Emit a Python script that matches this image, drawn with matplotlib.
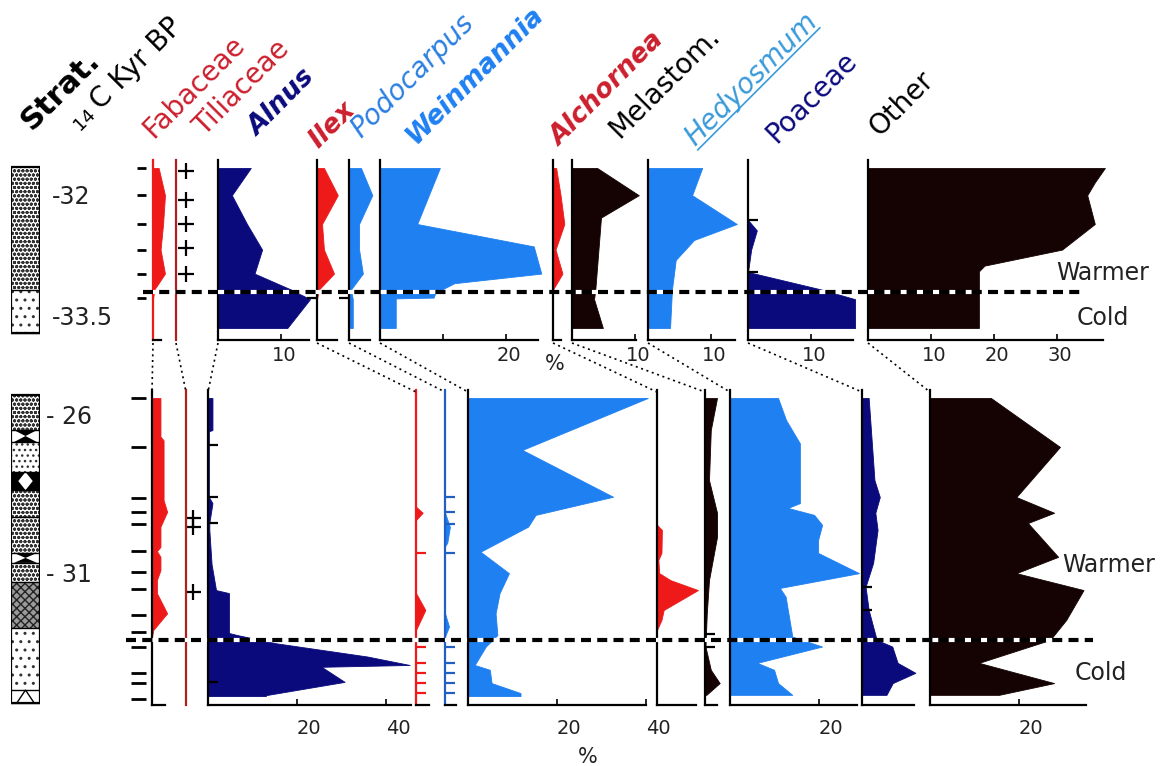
import numpy as np
import matplotlib
matplotlib.use("Agg")
import matplotlib.pyplot as plt
from matplotlib.lines import Line2D
from matplotlib.patches import Rectangle, Polygon
from matplotlib.textpath import TextPath
from matplotlib.font_manager import FontProperties
import matplotlib.transforms as mtransforms

W, H = 1167, 766

# ---------------- upper section (relative depth, 0 = top sample) ----------------
up_depth = [0, 17, 35, 51, 66, 76, 82, 100]
up_fabaceae = [0.9, 1.9, 1.6, 1.2, 1.9, 0.2, 0, 0]
up_alnus = [5.2, 2.2, 4.6, 7.0, 5.8, 11.6, 14.6, 11.0]
up_ilex = [1.1, 3.3, 0.8, 1.1, 2.7, 0.3, 0, 0]
up_podocarpus = [1.9, 3.7, 1.6, 1.6, 2.2, 0.3, 0.6, 0.6]
up_alchornea = [0.5, 1.2, 1.8, 0.4, 1.5, 0, 0, 0]
up_wein_depth = [0, 35, 49, 66, 72, 78, 81, 81.5, 100]
up_weinmannia = [9.5, 5.9, 24.4, 25.6, 11.8, 8.8, 8.5, 2.5, 2.5]
up_mel_depth = [0, 17, 31, 76, 82, 100]
up_melastom = [4.0, 10.6, 4.6, 3.7, 3.5, 4.9]
up_hed_depth = [0, 17, 35, 45, 57.5, 76, 100]
up_hedyosmum = [8.6, 7.0, 14.1, 7.3, 4.4, 3.8, 3.5]
up_poa_depth = [0, 32.5, 39, 51, 65, 76, 82, 100]
up_poaceae = [0, 0, 1.4, 0.5, 0, 11.7, 17, 17]
up_oth_depth = [0, 9, 17, 35, 51, 61, 64.6, 100]
up_other = [37.6, 36, 34.8, 36, 30.8, 18.5, 17.6, 17.6]
up_samples = [0, 17, 35, 51, 66, 81]
up_tilia_plus = [2, 20, 35, 50, 66]
up_strat = [(-0.6, 76.3, "dense"), (76.3, 103, "sparse")]
up_ages = [(18, "-32"), (94, "-33.5")]
up_boundary = 77.8

# ---------------- lower section ----------------
lo_fab_depth = [0, 12.8, 14, 33.8, 37.7, 42.6, 49.3, 50.7, 52.6, 57, 60.3, 64.6, 71.3, 76.8, 79, 100]
lo_fabaceae = [1.9, 1.9, 2.6, 2.6, 3.4, 1.9, 1.9, 1.1, 1.9, 1.9, 1.1, 1.1, 3.4, 0.3, 0, 0]
lo_aln_depth = [0, 10.6, 11, 32.8, 34.8, 41.4, 43.7, 55, 63.6, 64.6, 77.8, 78.5, 81.2, 85.6, 88.4, 89, 94, 98.4, 98.7]
lo_alnus = [1.0, 1.0, 0.2, 0.2, 1.0, 0.3, 0.3, 0.8, 1.8, 4.7, 4.7, 6.6, 15.2, 35.8, 45.3, 25.5, 30.7, 13, 13]
lo_ilex_depth = [36, 38, 40.4, 64.6, 70.2, 76.8]
lo_ilex = [0, 1.5, 0, 0, 2.1, 0]
lo_podo_depth = [38, 42.7, 48, 49, 71.3, 75.7, 79]
lo_podocarpus = [0, 1.1, 0.5, 0, 0, 0.9, 0]
lo_wein_depth = [0, 17.2, 32.7, 38.7, 42.6, 50.9, 58, 64.6, 71.3, 78.5, 82.3, 88.4, 90, 94.4, 97.7, 98.7]
lo_weinmannia = [40.4, 12.2, 32.6, 15.2, 13.5, 2.8, 9.2, 7.1, 6.2, 6.6, 4.0, 1.5, 4.9, 5.3, 11.8, 11.8]
lo_alch_depth = [42, 43.7, 51.3, 53.6, 58, 60.3, 63.6, 70.2, 73.5, 76.8]
lo_alchornea = [0, 1.1, 1.0, 0.3, 0.5, 3.0, 9.2, 1.5, 1.0, 0]
lo_mel_depth = [0, 10.6, 27.2, 38, 46, 60.3, 71.3, 82.3, 90, 94.4, 98.3]
lo_melastom = [2.7, 1.3, 0.9, 2.7, 2.7, 0.9, 0.4, 0.1, 1.3, 3.3, 0.3]
lo_hed_depth = [0, 7.3, 15, 34.8, 36.4, 38.7, 42, 47, 51.3, 58, 62.9, 65.8, 79, 82.3, 87.7, 90, 94.4, 98.3]
lo_hedyosmum = [10.8, 12.6, 15.7, 15.7, 13.0, 18.9, 20.7, 19.8, 19.8, 29.0, 11.2, 12.5, 14.0, 20.7, 6.1, 9.9, 10.8, 14.0]
lo_poa_depth = [0, 27.2, 32.8, 38, 43.7, 54.6, 62.5, 70.2, 80.1, 82.3, 87.7, 91, 94.4, 98.3]
lo_poaceae = [1.5, 2.8, 4.0, 3.0, 3.5, 2.5, 0.8, 1.5, 3.3, 6.8, 8.0, 12.0, 6.9, 5.5]
lo_oth_depth = [0, 16.2, 32.8, 38, 41.4, 52.6, 58, 63.6, 73.5, 80.1, 87.7, 94.4, 98.3]
lo_other = [13.7, 29.2, 19.4, 27.9, 22.0, 28.8, 19.4, 34.5, 30.6, 27.0, 11.0, 27.9, 15.5]
lo_samples = [0, 16.2, 33.1, 37.7, 41.7, 50.7, 57.6, 63.2, 71.9, 77.5, 82.5, 91.1, 94.4, 99.7]
lo_tilia_plus = [39.7, 42.7, 64.2]
lo_alnus_ticks = [15.6, 32.7, 41.4, 94]
lo_ilex_ticks = [51.3, 82.3, 87.7, 91, 94.4, 97.7]
lo_podo_ticks = [32.7, 37.7, 41.7, 51.3, 82.3, 87.7, 91, 94.4, 97.7]
lo_mel_ticks = [78.3, 82.3]
lo_poa_ticks = [62.5, 70.2]
lo_strat = [(-1, 10.6, "dense"), (10.6, 14.6, "hour"), (14.6, 24.5, "dots"),
            (24.5, 30.5, "black"), (30.5, 39.4, "dense"), (39.4, 51.3, "dense"),
            (51.3, 54.6, "hour"), (54.6, 60.9, "dense"), (60.9, 76.2, "dark"),
            (76.2, 96.7, "sparse"), (96.7, 101, "tri")]
lo_ages = [(6.3, "- 26"), (58.6, "- 31")]
lo_boundary = 80.1

RED = "#ee1a1a"
HRED = "#cc1f2e"
NAVY = "#0b0a7c"
BLUE = "#1f80f2"
BLK = "#150303"

fig = plt.figure(figsize=(W / 100, H / 100), dpi=100)
plt.rcParams["font.family"] = "DejaVu Sans"


def px_axes(x0, y0, x1, y1):
    return fig.add_axes([x0 / W, 1 - y1 / H, (x1 - x0) / W, (y1 - y0) / H])


def fig_xy(x, y):
    return x / W, 1 - y / H


# section geometry: top/bottom pixel of the panels, pixel of depth 0, px per depth unit, px per %
TOP = dict(y0=160, y1=340, d0=168, dscale=1.6, xscale=6.3, lpad=4, ldx=3)
LOW = dict(y0=390, y1=705, d0=398, dscale=3.02, xscale=4.45, lpad=10, ldx=12)


def ylim_of(sec):
    return ((sec["y1"] - sec["d0"]) / sec["dscale"], (sec["y0"] - sec["d0"]) / sec["dscale"])


def panel(sec, x0, xmax, depth=None, vals=None, color=BLK, spine_color="black",
          xticks=(), xlabels=(), yticks=(), tick_dir="in"):
    ax = px_axes(x0, sec["y0"], x0 + xmax * sec["xscale"], sec["y1"])
    ax.patch.set_alpha(0)
    if depth is not None:
        ax.fill_betweenx(depth, 0, vals, color=color, lw=0.6, clip_on=False)
    ax.set_xlim(0, xmax)
    ax.set_ylim(*ylim_of(sec))
    for s in ("top", "right"):
        ax.spines[s].set_visible(False)
    ax.spines["left"].set_color(spine_color)
    ax.spines["left"].set_linewidth(1.6)
    ax.spines["bottom"].set_linewidth(1.6)
    ax.set_xticks(list(xticks))
    ax.set_xticklabels(list(xlabels))
    ax.tick_params(axis="x", direction="in", length=4, width=1.2, labelsize=14,
                   pad=sec["lpad"], labelcolor="#222222")
    shift = mtransforms.ScaledTranslation(sec["ldx"] / 100, 0, fig.dpi_scale_trans)
    for lab in ax.get_xticklabels():
        lab.set_transform(lab.get_transform() + shift)
    ax.set_yticks(list(yticks))
    ax.set_yticklabels([])
    ax.tick_params(axis="y", direction=tick_dir, length=7, width=1.6, color=spine_color)
    return ax


def line_only(sec, x0, color):
    ax = px_axes(x0, sec["y0"], x0 + 20, sec["y1"])
    ax.patch.set_alpha(0)
    ax.set_xlim(0, 20 / sec["xscale"])
    ax.set_ylim(*ylim_of(sec))
    for s in ("top", "right", "bottom"):
        ax.spines[s].set_visible(False)
    ax.spines["left"].set_color(color)
    ax.spines["left"].set_linewidth(1.6)
    ax.set_xticks([])
    ax.set_yticks([])
    return ax


def strat(sec, layers, ages, label_x):
    ax = px_axes(11, sec["y0"], 40, sec["y1"])
    ax.set_xlim(0, 1)
    ax.set_ylim(*ylim_of(sec))
    ax.axis("off")
    plt.rcParams["hatch.linewidth"] = 1.0
    for top, bot, kind in layers:
        h = bot - top
        if kind == "dense":
            ax.add_patch(Rectangle((0, top), 1, h, facecolor="white", edgecolor="#333333",
                                   hatch="oooo", lw=0))
        elif kind == "sparse":
            ax.add_patch(Rectangle((0, top), 1, h, facecolor="white", edgecolor="#333333",
                                   hatch="..", lw=0))
        elif kind == "dots":
            ax.add_patch(Rectangle((0, top), 1, h, facecolor="white", edgecolor="#333333",
                                   hatch="...", lw=0))
        elif kind == "dark":
            ax.add_patch(Rectangle((0, top), 1, h, facecolor="#9a9a9a", edgecolor="#222222",
                                   hatch="xxxx", lw=0))
        elif kind == "black":
            ax.add_patch(Rectangle((0, top), 1, h, facecolor="black", lw=0))
            ax.add_patch(Polygon([(0.5, top), (0.75, top + h / 2), (0.5, bot), (0.25, top + h / 2)],
                                 facecolor="white", lw=0))
        elif kind == "hour":
            ax.add_patch(Rectangle((0, top), 1, h, facecolor="white", lw=0))
            ax.add_patch(Polygon([(0.1, top), (0.9, top), (0.5, top + h / 2)], facecolor="black", lw=0))
            ax.add_patch(Polygon([(0.1, bot), (0.9, bot), (0.5, top + h / 2)], facecolor="black", lw=0))
        elif kind == "tri":
            ax.add_patch(Rectangle((0, top), 1, h, facecolor="white", lw=0))
            ax.add_patch(Polygon([(0.2, bot), (0.8, bot), (0.5, top)], facecolor="white",
                                 edgecolor="black", lw=1))
        ax.plot([0, 1], [bot, bot], color="black", lw=1)
    t0, b0 = layers[0][0], layers[-1][1]
    ax.add_patch(Rectangle((0, t0), 1, b0 - t0, fill=False, edgecolor="black", lw=1.6))
    trans = mtransforms.blended_transform_factory(ax.transAxes, ax.transData)
    for d, s in ages:
        ax.text(label_x, d, s, transform=trans, va="center", ha="left", fontsize=17,
                color="#222222")


def sample_marks(ax, sec, depths, offset_px, size_px):
    ax.plot(np.full(len(depths), -offset_px / sec["xscale"]), depths, ls="none", marker="_",
            ms=size_px * 0.72, mew=2.0, color="black", clip_on=False)


def plus_marks(ax, sec, depths, offset_px):
    ax.plot(np.full(len(depths), offset_px / sec["xscale"]), depths, ls="none", marker="+",
            ms=11, mew=1.6, color="black", clip_on=False)


# ---------------- upper panels ----------------
strat(TOP, up_strat, up_ages, 1.41)
a = panel(TOP, 153, 1.3, up_depth, up_fabaceae, RED, spine_color=RED)
sample_marks(a, TOP, up_samples, 12.5, 9)
t = line_only(TOP, 176, "#b02020")
plus_marks(t, TOP, up_tilia_plus, 10)
panel(TOP, 218, 14.4, up_depth, up_alnus, NAVY, xticks=[10], xlabels=["10"])
panel(TOP, 317, 3.2, up_depth, up_ilex, RED, yticks=[81], tick_dir="out")
panel(TOP, 349, 3.3, up_depth, up_podocarpus, BLUE, yticks=[81], tick_dir="out")
panel(TOP, 380, 25.1, up_wein_depth, up_weinmannia, BLUE, xticks=[10, 20], xlabels=["", "20"])
panel(TOP, 553, 1.2, up_depth, up_alchornea, RED)
panel(TOP, 572, 10.1, up_mel_depth, up_melastom, BLK, xticks=[10], xlabels=["10"])
panel(TOP, 648, 13.8, up_hed_depth, up_hedyosmum, BLUE, xticks=[10], xlabels=["10"])
panel(TOP, 748, 16.7, up_poa_depth, up_poaceae, NAVY, xticks=[10], xlabels=["10"],
      yticks=[32.5, 65])
panel(TOP, 868, 37.3, up_oth_depth, up_other, BLK, xticks=[10, 20, 30],
      xlabels=["10", "20", "30"])

# ---------------- lower panels ----------------
strat(LOW, lo_strat, lo_ages, 1.2)
a = panel(LOW, 152, 3.0, lo_fab_depth, lo_fabaceae, RED)
sample_marks(a, LOW, lo_samples, 14.5, 15)
t = line_only(LOW, 186, "#b02020")
plus_marks(t, LOW, lo_tilia_plus, 7)
panel(LOW, 208, 45.6, lo_aln_depth, lo_alnus, NAVY, xticks=[20, 40], xlabels=["20", "40"],
      yticks=lo_alnus_ticks)
panel(LOW, 416, 3.0, lo_ilex_depth, lo_ilex, RED, spine_color=RED, yticks=lo_ilex_ticks)
panel(LOW, 445, 2.5, lo_podo_depth, lo_podocarpus, BLUE, spine_color="#2060c0",
      yticks=lo_podo_ticks)
panel(LOW, 468, 40, lo_wein_depth, lo_weinmannia, BLUE, xticks=[20, 40], xlabels=["20", "40"])
panel(LOW, 657, 8.8, lo_alch_depth, lo_alchornea, RED)
panel(LOW, 705, 2.7, lo_mel_depth, lo_melastom, BLK, yticks=lo_mel_ticks)
panel(LOW, 730, 28.5, lo_hed_depth, lo_hedyosmum, BLUE, xticks=[20], xlabels=["20"])
panel(LOW, 862, 11.7, lo_poa_depth, lo_poaceae, NAVY, yticks=lo_poa_ticks)
panel(LOW, 930, 35, lo_oth_depth, lo_other, BLK, xticks=[20], xlabels=["20"])

# ---------------- boundary lines, connectors, labels ----------------
def hline_px(x0, x1, y):
    (fx0, fy), (fx1, _) = fig_xy(x0, y), fig_xy(x1, y)
    fig.add_artist(Line2D([fx0, fx1], [fy, fy], transform=fig.transFigure, color="black",
                          lw=3, dashes=(2.4, 1.5), gapcolor="white", zorder=10))


hline_px(143, 1085, TOP["d0"] + up_boundary * TOP["dscale"])
hline_px(126, 1093, LOW["d0"] + lo_boundary * LOW["dscale"])

up_left = [153, 176, 218, 317, 349, 380, 553, 572, 648, 748, 868]
lo_left = [152, 186, 208, 416, 445, 468, 657, 705, 730, 862, 930]
for xu, xl in zip(up_left, lo_left):
    (a0, b0), (a1, b1) = fig_xy(xu, 343), fig_xy(xl, 392)
    fig.add_artist(Line2D([a0, a1], [b0, b1], transform=fig.transFigure, color="black",
                          lw=1.2, ls=(0, (1.2, 2.2)), zorder=5))

for (x, y, s) in [(1103, 273, "Warmer"), (1103, 318, "Cold"), (1109, 565, "Warmer"),
                  (1101, 673, "Cold")]:
    fig.text(*fig_xy(x, y), s, ha="center", va="center", fontsize=17, color="#222222")
fig.text(*fig_xy(555, 364), "%", ha="center", va="center", fontsize=15, color="#222222")
fig.text(*fig_xy(588, 757), "%", ha="center", va="center", fontsize=15, color="#222222")

# header labels: start and end of each rotated label in the reference (pixels)
headers = [
    ((25, 137), (107, 62), "Strat.", "black", "normal", "bold", 22),
    ((145, 148), (252, 40), "Fabaceae", HRED, "normal", "normal", 20),
    ((197, 145), (297, 43), "Tiliaceae", HRED, "normal", "normal", 20),
    ((258, 137), (320, 83), "Alnus", NAVY, "italic", "bold", 19),
    ((317, 150), (357, 110), "Ilex", HRED, "italic", "bold", 19),
    ((353, 147), (483, 17), "Podocarpus", "#2a7fe0", "italic", "normal", 20),
    ((413, 147), (543, 15), "Weinmannia", "#1f80f2", "italic", "bold", 19),
    ((560, 147), (663, 40), "Alchornea", HRED, "italic", "bold", 19),
    ((615, 143), (728, 43), "Melastom.", "black", "normal", "normal", 20),
    ((690, 152), (822, 20), "Hedyosmum", "#3a9ad9", "italic", "normal", 20),
    ((770, 150), (862, 58), "Poaceae", NAVY, "normal", "normal", 20),
    ((874, 143), (946, 83), "Other", "black", "normal", "normal", 20),
]
c45 = np.sqrt(0.5)
for (x0, y0), (x1, y1), s, c, st, wt, fs in headers:
    Lref = np.hypot(x1 - x0, y1 - y0)
    prop = FontProperties(family="DejaVu Sans", style=st, weight=wt)
    Lm = TextPath((0, 0), s, size=fs, prop=prop).get_extents().width * 100 / 72
    sh = (Lref - Lm) / 2
    ax_, ay_ = x0 + sh * c45, y0 - sh * c45
    fig.text(*fig_xy(ax_, ay_), s, color=c, style=st, weight=wt, fontsize=fs, rotation=45,
             rotation_mode="anchor", ha="left", va="baseline")
    if s == "Hedyosmum":
        off = 4
        u0, v0 = ax_ + off * c45, ay_ + off * c45
        u1, v1 = u0 + Lm * c45, v0 - Lm * c45
        (p0, q0), (p1, q1) = fig_xy(u0, v0), fig_xy(u1, v1)
        fig.add_artist(Line2D([p0, p1], [q0, q1], transform=fig.transFigure, color=c, lw=1.2))

# radiocarbon age heading: small "14" followed by "C Kyr BP" on the same baseline
fig.text(*fig_xy(80, 131), "14", color="black", fontsize=13, rotation=45,
         rotation_mode="anchor", ha="left", va="baseline")
fig.text(*fig_xy(101, 111), "C Kyr BP", color="black", fontsize=20, rotation=45,
         rotation_mode="anchor", ha="left", va="baseline")

fig.savefig("out.png", dpi=100)
